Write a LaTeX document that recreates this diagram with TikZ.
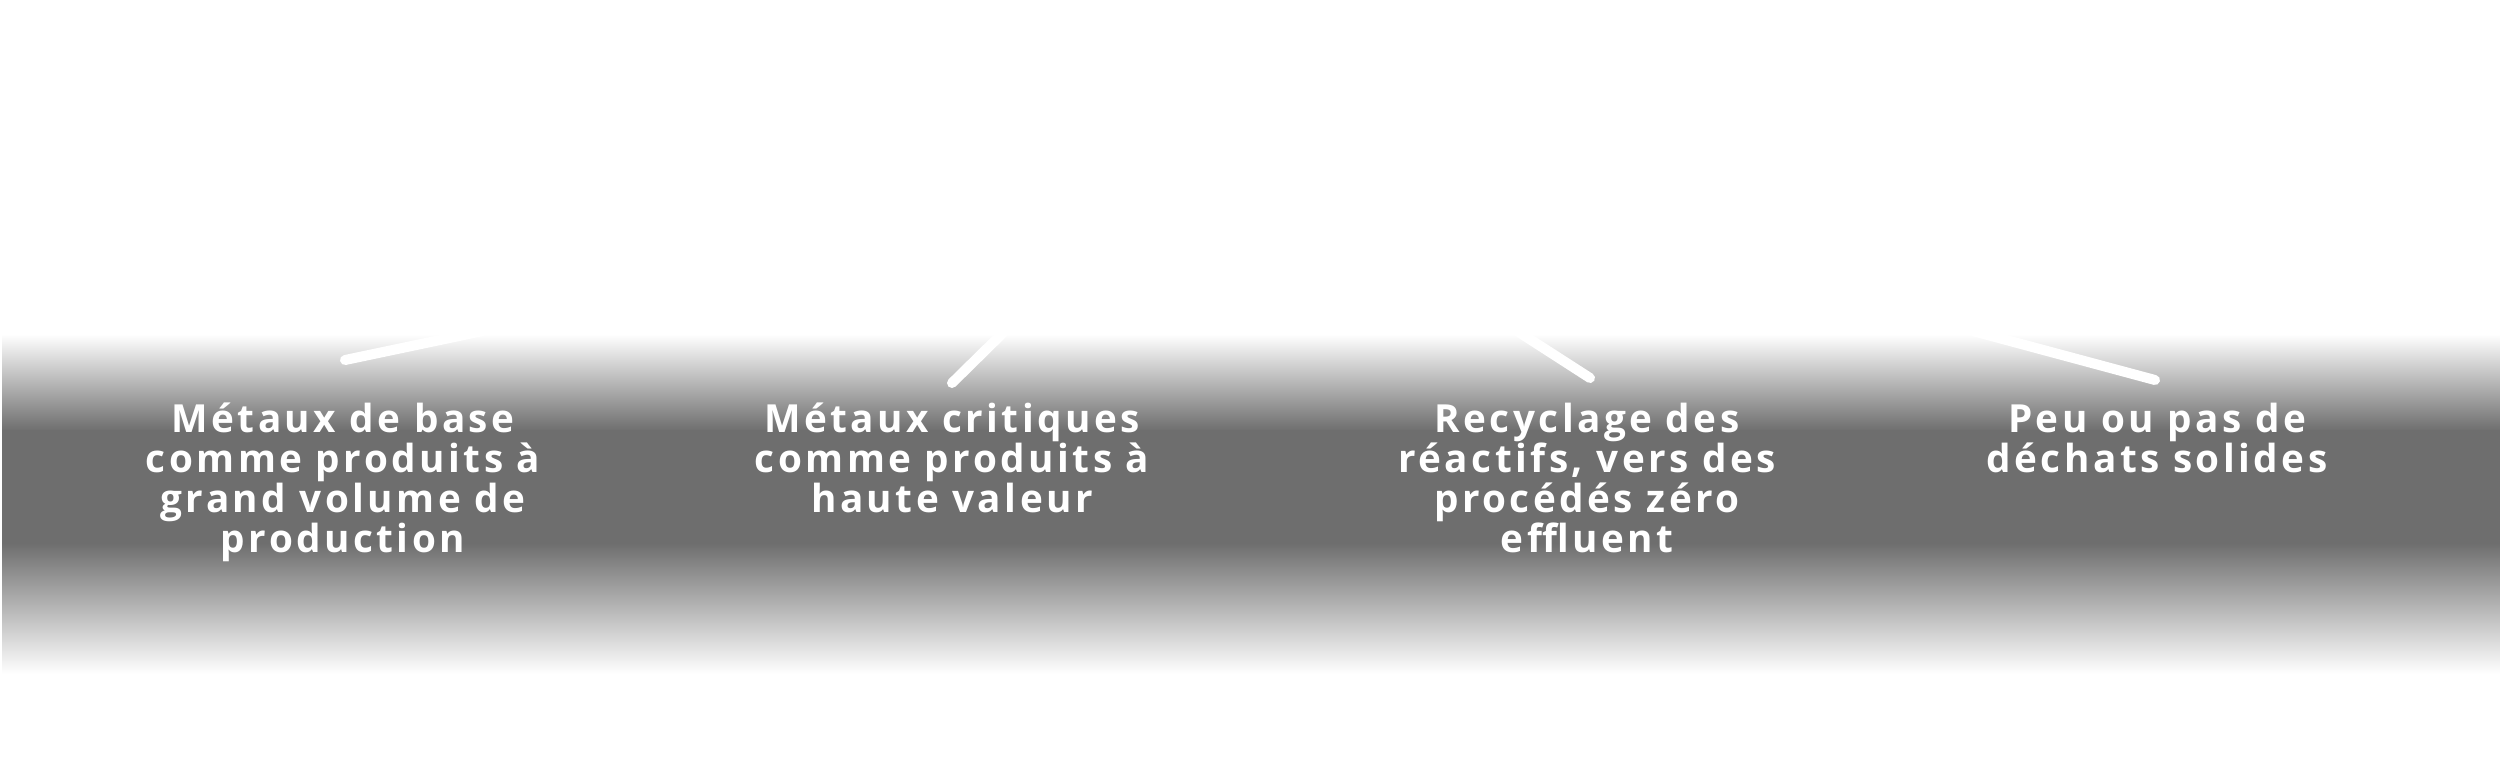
\documentclass[tikz,border=0pt]{standalone}
\usepackage{fontspec}
\setmainfont{Open Sans}[LetterSpace=9]
\definecolor{bandgrey}{RGB}{110,110,110}
\tikzset{
  lbl/.style={text=white, font=\bfseries\fontsize{11pt}{11.4pt}\selectfont, align=center, inner sep=0pt, anchor=north},
  ray/.style={draw=white, line width=0.1cm, line cap=round}
}
\newcommand{\topstrut}{\rule{0pt}{1em}}
\begin{document}
\begin{tikzpicture}[x=0.01cm, y=-0.01cm]
\useasboundingbox (0,0) rectangle (2500,769);
\fill[white] (0,0) rectangle (2500,769);
% band
\shade[top color=white, bottom color=bandgrey] (2,334) rectangle (2500,431);
\fill[bandgrey] (2,430) rectangle (2500,544);
\shade[top color=bandgrey, bottom color=white] (2,543) rectangle (2500,674);
% connectors
\coordinate (a1) at (345,360); \coordinate (b1) at (535,320);
\coordinate (a2) at (952,383); \coordinate (b2) at (1016,320);
\coordinate (a3) at (1590,378); \coordinate (b3) at (1500,320);
\coordinate (a4) at (2155,380); \coordinate (b4) at (1932,320);
\draw[ray] (a1) -- (b1);
\draw[ray] (a2) -- (b2);
\draw[ray] (a3) -- (b3);
\draw[ray] (a4) -- (b4);
% labels
\node[lbl] (t1) at (343,393) {\topstrut M\'etaux de base\\comme produits \`a\\grand volume de\\production};
\node[lbl] (t2) at (952,393) {\topstrut M\'etaux critiques\\comme produits \`a\\haute valeur};
\node[lbl] (t3) at (1587,393) {\topstrut Recyclage des\\r\'eactifs, vers des\\proc\'ed\'es z\'ero\\effluent};
\node[lbl] (t4) at (2157,393) {\topstrut Peu ou pas de\\d\'echats solides};
\end{tikzpicture}
\end{document}
